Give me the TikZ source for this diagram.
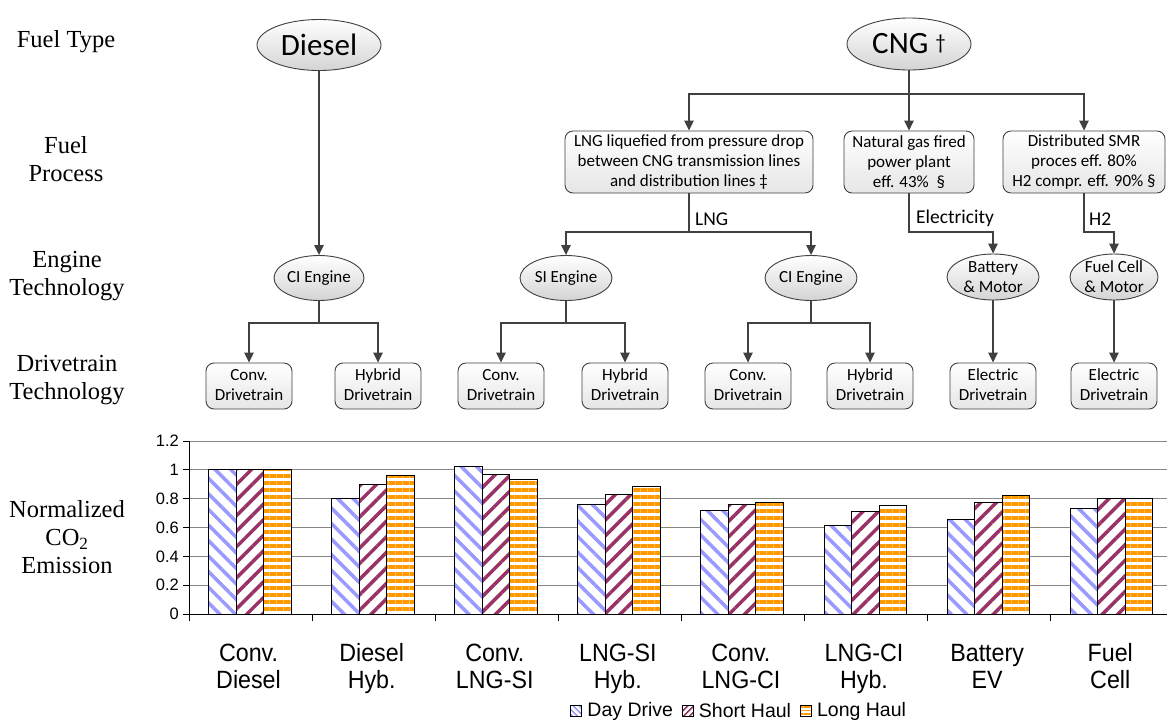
\documentclass[tikz,border=0pt]{standalone}
\usepackage{fontspec}
\setmainfont{Liberation Serif}
\newfontfamily\calfont{Carlito}
\newfontfamily\arfont{Liberation Sans}
\usetikzlibrary{arrows.meta,shapes.geometric,patterns.meta,positioning,calc}
\definecolor{linec}{HTML}{404040}
\definecolor{dayc}{HTML}{9999FF}
\definecolor{shortc}{HTML}{993366}
\definecolor{longc}{HTML}{FF9900}
\definecolor{gridc}{HTML}{868686}
\definecolor{ellb}{HTML}{D4D4D4}
\definecolor{boxb}{HTML}{E6E6E6}
\begin{document}
\begin{tikzpicture}[x=1pt,y=-1pt,
  every node/.style={inner sep=0pt},
  ellnode/.style={ellipse, draw=linec, line width=0.9pt, top color=white, bottom color=ellb},
  boxnode/.style={rectangle, rounded corners=8pt, draw=linec, line width=0.9pt, top color=white, bottom color=boxb, align=center, font=\calfont\fontsize{17}{20}\selectfont},
  etext/.style={font=\calfont\fontsize{17}{20}\selectfont, align=center},
  bigtext/.style={font=\calfont\fontsize{31}{32}\selectfont},
  lnklab/.style={font=\calfont\fontsize{19.5}{22}\selectfont, anchor=west},
  rowlab/.style={font=\fontsize{24.5}{28}\selectfont, align=center},
  arr/.style={draw=linec, line width=1.4pt, -{Triangle[length=10pt,width=9.5pt]}},
  ln/.style={draw=linec, line width=1.4pt},
  gridl/.style={draw=gridc, line width=1pt},
  axisl/.style={draw=black, line width=1pt},
  ylab/.style={font=\arfont\fontsize{16.5}{18}\selectfont, anchor=east},
  catlab/.style={font=\arfont\fontsize{25}{27}\selectfont, align=center, xscale=0.93},
  legtxt/.style={font=\arfont\fontsize{19.5}{22}\selectfont},
  barbase/.style={draw=black, line width=1pt, preaction={fill=white}},
  daypat/.style={pattern={Lines[angle=-45,distance=11pt,line width=3.5pt]}, pattern color=dayc},
  shortpat/.style={pattern={Lines[angle=45,distance=11pt,line width=3.5pt]}, pattern color=shortc},
  longpat/.style={pattern={Lines[angle=0,distance=7pt,line width=3.5pt]}, pattern color=longc},
  legsq/.style={draw=black, line width=0.8pt, preaction={fill=white}, minimum width=11pt, minimum height=11pt},
  dlegpat/.style={pattern={Lines[angle=-45,distance=4pt,line width=1.5pt]}, pattern color=dayc},
  slegpat/.style={pattern={Lines[angle=45,distance=4pt,line width=1.5pt]}, pattern color=shortc},
  llegpat/.style={pattern={Lines[angle=0,distance=3.5pt,line width=1.6pt]}, pattern color=longc}
]
\useasboundingbox (0,0) rectangle (1167,721);
\fill[white] (0,0) rectangle (1167,721);

% row labels
\node[rowlab] (rl1) at (66,42) {Fuel Type};
\node[rowlab] (rl2) at (66,159) {Fuel\\Process};
\node[rowlab] (rl3) at (67,276) {Engine\\Technology};
\node[rowlab] (rl4) at (67,380) {Drivetrain\\Technology};
\node[rowlab] (rl5) at (67,537) {Normalized\\CO\textsubscript{2}\\Emission};

% fuel type
\node[ellnode, minimum width=124, minimum height=51, label={[bigtext]center:Diesel}] (diesel) at (319,45) {};
\node[ellnode, minimum width=124, minimum height=52, label={[bigtext]center:CNG \raisebox{4pt}{\fontsize{21}{21}\selectfont †}}] (cng) at (909,44) {};

% fuel process
\node[boxnode, minimum width=248, minimum height=62] (lngp) at (689,162) {LNG liquefied from pressure drop\\between CNG transmission lines\\and distribution lines ‡};
\node[boxnode, minimum width=130, minimum height=62] (ngp) at (909,162) {Natural gas fired\\power plant\\eff. 43\%\ \ §};
\node[boxnode, minimum width=162, minimum height=62] (smr) at (1084,162) {Distributed SMR\\proces eff. 80\%\\H2 compr. eff. 90\% §};

% engines
\node[ellnode, minimum width=90, minimum height=45, label={[etext]center:CI Engine}] (ci1) at (319,278) {};
\node[ellnode, minimum width=92, minimum height=45, label={[etext]center:SI Engine}] (si) at (566,278) {};
\node[ellnode, minimum width=92, minimum height=45, label={[etext]center:CI Engine}] (ci2) at (811,278) {};
\node[ellnode, minimum width=92, minimum height=46, label={[etext]center:Battery\\\& Motor}] (bat) at (993,277) {};
\node[ellnode, minimum width=88, minimum height=46, label={[etext]center:Fuel Cell\\\& Motor}] (fc) at (1114,277) {};

% drivetrains
\foreach \n/\x/\t in {cd1/249/Conv., hd1/378/Hybrid, cd2/501/Conv., hd2/625/Hybrid, cd3/748/Conv., hd3/870/Hybrid, ed1/993/Electric, ed2/1114/Electric}
  \node[boxnode, minimum width=86, minimum height=46] (\n) at (\x,386) {\strut\t\\\strut Drivetrain};

% junctions
\coordinate (j1) at (909,94);
\coordinate (j2) at (689,232);
\coordinate (e1) at (909,232);
\coordinate (h1) at (1084,232);
\coordinate (d1) at (319,323);
\coordinate (d2) at (566,323);
\coordinate (d3) at (811,323);

% connectors
\draw[arr] (diesel) -- (ci1);
\draw[ln] (cng) -- (j1);
\draw[arr] (j1) -| (lngp);
\draw[arr] (j1) -- (ngp);
\draw[arr] (j1) -| (smr);
\draw[ln] (lngp) -- (j2);
\draw[arr] (j2) -| (si);
\draw[arr] (j2) -| (ci2);
\draw[arr] (ngp) -- (e1) -| (bat);
\draw[arr] (smr) -- (h1) -| (fc);
\draw[ln] (ci1) -- (d1);
\draw[arr] (d1) -| (cd1);
\draw[arr] (d1) -| (hd1);
\draw[ln] (si) -- (d2);
\draw[arr] (d2) -| (cd2);
\draw[arr] (d2) -| (hd2);
\draw[ln] (ci2) -- (d3);
\draw[arr] (d3) -| (cd3);
\draw[arr] (d3) -| (hd3);
\draw[arr] (bat) -- (ed1);
\draw[arr] (fc) -- (ed2);

\node[lnklab] (lnglab) at (695,219) {LNG};
\node[lnklab] (elab) at (916,218) {Electricity};
\node[lnklab] (hlab) at (1089,219) {H2};

% chart grid
\foreach \v in {0.2,0.4,0.6,0.8,1.0,1.2}
  \draw[gridl] (189,{614-144.17*\v}) -- (1167,{614-144.17*\v});
\foreach \v/\s in {0/0,0.2/0.2,0.4/0.4,0.6/0.6,0.8/0.8,1.0/1,1.2/1.2} {
  \draw[axisl] (183,{614-144.17*\v}) -- (189,{614-144.17*\v});
  \node[ylab] (yl\s) at (179,{614-144.17*\v}) {\s};
}

% bars
\foreach \k/\a/\b/\c in {0/1.0/1.0/1.0, 1/0.80/0.898/0.96, 2/1.025/0.968/0.932, 3/0.762/0.83/0.882, 4/0.72/0.763/0.772, 5/0.612/0.712/0.754, 6/0.657/0.77/0.82, 7/0.735/0.80/0.80} {
  \pgfmathsetmacro\bx{208.5+123.1*\k}
  \draw[barbase, daypat] (\bx,614) rectangle ({\bx+27.5},{614-144.17*\a});
  \draw[barbase, shortpat] ({\bx+27.5},614) rectangle ({\bx+55},{614-144.17*\b});
  \draw[barbase, longpat] ({\bx+55},614) rectangle ({\bx+82.5},{614-144.17*\c});
}

% axes
\draw[axisl] (189,441) -- (189,614) -- (1167,614);
\foreach \k in {0,...,7}
  \draw[axisl] ({189+123.1*\k},614) -- ({189+123.1*\k},621);

% category labels
\foreach \k/\ta/\tb in {0/Conv./Diesel, 1/Diesel/Hyb., 2/Conv./LNG-SI, 3/LNG-SI/Hyb., 4/Conv./LNG-CI, 5/LNG-CI/Hyb., 6/Battery/EV, 7/Fuel/Cell}
  \node[catlab] (cat\k) at ({189+123.1*(\k+0.5)-2},670) {\strut\ta\\\strut\tb};

% legend
\node[legsq, dlegpat] (lg1) at (576,711) {};
\node[legtxt, right=5pt of lg1] (lt1) {Day Drive};
\node[legsq, slegpat, right=8pt of lt1] (lg2) {};
\node[legtxt, right=5pt of lg2] (lt2) {Short Haul};
\node[legsq, llegpat, right=8pt of lt2] (lg3) {};
\node[legtxt, right=5pt of lg3] (lt3) {Long Haul};
\end{tikzpicture}
\end{document}
